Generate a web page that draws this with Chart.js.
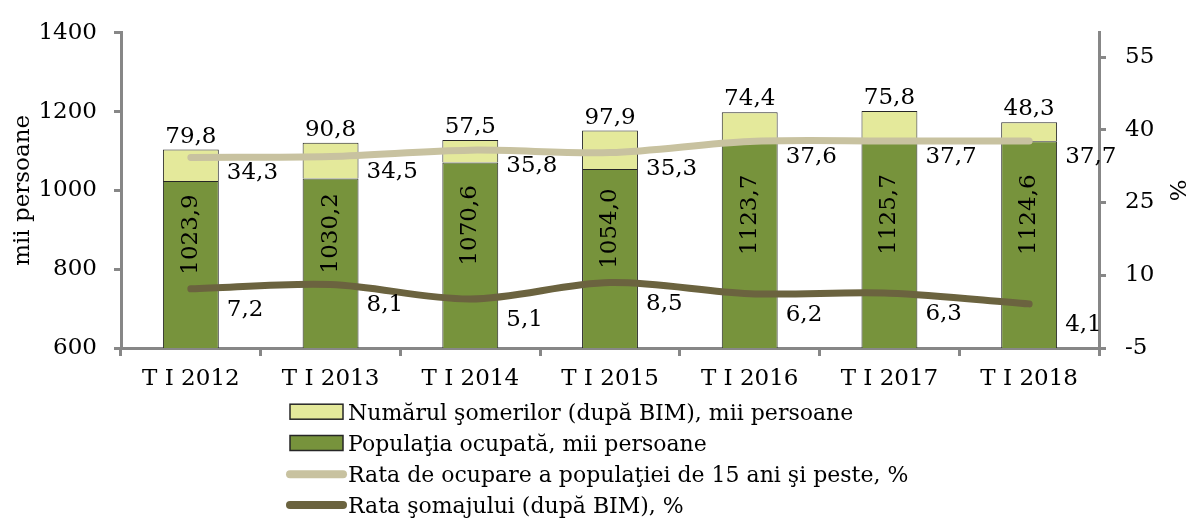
<!DOCTYPE html>
<html>
<head>
<meta charset="utf-8">
<script src="https://cdn.jsdelivr.net/npm/chart.js@4.4.1/dist/chart.umd.min.js"></script>
<style>
  html, body { margin: 0; padding: 0; background: #ffffff; }
  #wrap { width: 1189px; height: 520px; position: relative; }
</style>
</head>
<body>
<div id="wrap"><canvas id="c" width="1189" height="520"></canvas></div>
<script>
const categories = ['T I 2012', 'T I 2013', 'T I 2014', 'T I 2015', 'T I 2016', 'T I 2017', 'T I 2018'];
const employed = [1023.9, 1030.2, 1070.6, 1054.0, 1123.7, 1125.7, 1124.6];
const unemployed = [79.8, 90.8, 57.5, 97.9, 74.4, 75.8, 48.3];
const occupationRate = [34.3, 34.5, 35.8, 35.3, 37.6, 37.7, 37.7];
const unemploymentRate = [7.2, 8.1, 5.1, 8.5, 6.2, 6.3, 4.1];
const leftTicks = [600, 800, 1000, 1200, 1400];
const rightTicks = [-5, 10, 25, 40, 55];

const seriesNames = [
  'Numărul şomerilor (după BIM), mii persoane',
  'Populaţia ocupată, mii persoane',
  'Rata de ocupare a populaţiei de 15 ani şi peste, %',
  'Rata şomajului (după BIM), %'
];

const FONT = 'DejaVu Serif';
const FS = 23;
const LEGEND_FS = 22;
const C_EMP = '#77933C';
const C_UNE = '#E4E99B';
const C_OCC = '#C8C2A0';
const C_UR = '#6B633F';
const C_BORDER = '#262626';
const C_AXIS = '#878787';

const fmt = v => v.toFixed(1).replace('.', ',');

const labelsPlugin = {
  id: 'labelsPlugin',
  afterDatasetsDraw(chart) {
    const ctx = chart.ctx;
    const bottom = chart.chartArea.bottom;
    ctx.save();
    ctx.fillStyle = '#000';
    ctx.font = FS + 'px "' + FONT + '"';
    const mEmp = chart.getDatasetMeta(0);
    mEmp.data.forEach((el, i) => {
      const base = Math.min(el.base, bottom);
      ctx.save();
      ctx.translate(el.x, (el.y + base) / 2 - 30);
      ctx.rotate(-Math.PI / 2);
      ctx.textAlign = 'center';
      ctx.textBaseline = 'middle';
      ctx.fillText(fmt(employed[i]), 0, 0);
      ctx.restore();
    });
    const mUne = chart.getDatasetMeta(1);
    mUne.data.forEach((el, i) => {
      ctx.textAlign = 'center';
      ctx.textBaseline = 'alphabetic';
      ctx.fillText(fmt(unemployed[i]), el.x, el.y - 7);
    });
    [[2, occupationRate, 16], [3, unemploymentRate, 21]].forEach(([di, arr, dy]) => {
      const m = chart.getDatasetMeta(di);
      m.data.forEach((el, i) => {
        ctx.textAlign = 'left';
        ctx.textBaseline = 'middle';
        ctx.fillText(fmt(arr[i]), el.x + 36, el.y + dy);
      });
    });
    ctx.restore();
  }
};

const legendPlugin = {
  id: 'legendPlugin',
  afterDraw(chart) {
    const ctx = chart.ctx;
    ctx.save();
    const x0 = 290, x1 = 343, tx = 348;
    const baselines = [420, 451, 482, 513];
    const centers = [411.7, 443, 474.3, 505];
    [[C_UNE, 0], [C_EMP, 1]].forEach(([col, r]) => {
      ctx.fillStyle = col;
      ctx.fillRect(x0, centers[r] - 7.5, x1 - x0, 15);
      ctx.strokeStyle = C_BORDER;
      ctx.lineWidth = 1.5;
      ctx.strokeRect(x0, centers[r] - 7.5, x1 - x0, 15);
    });
    [[C_OCC, 2], [C_UR, 3]].forEach(([col, r]) => {
      ctx.strokeStyle = col;
      ctx.lineWidth = 8;
      ctx.lineCap = 'round';
      ctx.beginPath();
      ctx.moveTo(x0, centers[r]);
      ctx.lineTo(x1, centers[r]);
      ctx.stroke();
    });
    ctx.fillStyle = '#000';
    ctx.font = LEGEND_FS + 'px "' + FONT + '"';
    ctx.textAlign = 'left';
    ctx.textBaseline = 'alphabetic';
    seriesNames.forEach((n, i) => ctx.fillText(n, tx, baselines[i]));
    ctx.restore();
  }
};

const tickFont = { family: FONT, size: FS };

new Chart(document.getElementById('c'), {
  type: 'bar',
  data: {
    labels: categories,
    datasets: [
      {
        label: seriesNames[1], data: employed, backgroundColor: C_EMP,
        borderColor: C_BORDER, borderWidth: 1, yAxisID: 'y', order: 1,
        categoryPercentage: 1, barPercentage: 0.4, stack: 's'
      },
      {
        label: seriesNames[0], data: unemployed, backgroundColor: C_UNE,
        borderColor: C_BORDER, borderWidth: 1, yAxisID: 'y', order: 1,
        categoryPercentage: 1, barPercentage: 0.4, stack: 's'
      },
      {
        type: 'line', label: seriesNames[2], data: occupationRate, yAxisID: 'y1',
        borderColor: C_OCC, borderWidth: 7, pointRadius: 0, tension: 0.33,
        borderCapStyle: 'round', borderJoinStyle: 'round', fill: false, order: 0
      },
      {
        type: 'line', label: seriesNames[3], data: unemploymentRate, yAxisID: 'y1',
        borderColor: C_UR, borderWidth: 7, pointRadius: 0, tension: 0.33,
        borderCapStyle: 'round', borderJoinStyle: 'round', fill: false, order: 0
      }
    ]
  },
  options: {
    responsive: false,
    animation: false,
    devicePixelRatio: 1,
    layout: { padding: { top: 27, left: 0, right: 0, bottom: 0 } },
    plugins: { legend: { display: false }, tooltip: { enabled: false } },
    scales: {
      x: {
        stacked: true,
        afterFit(s) { s.height = 172; },
        grid: { offset: true, drawOnChartArea: false, drawTicks: true, tickLength: 8, color: C_AXIS, lineWidth: 3 },
        border: { color: C_AXIS, width: 3 },
        ticks: { font: tickFont, color: '#000', padding: 9, maxRotation: 0 }
      },
      y: {
        stacked: true,
        position: 'left',
        min: 600, max: 1400,
        afterFit(s) { s.width = 121; },
        afterBuildTicks(s) { s.ticks = leftTicks.map(v => ({ value: v })); },
        grid: { drawOnChartArea: false, drawTicks: true, tickLength: 7, color: C_AXIS, lineWidth: 3 },
        border: { color: C_AXIS, width: 3 },
        ticks: { font: tickFont, color: '#000', padding: 17, callback: v => String(v) },
        title: { display: true, text: 'mii persoane', font: { family: FONT, size: FS, lineHeight: 1.0 }, color: '#000', padding: { top: 12, bottom: 0 } }
      },
      y1: {
        position: 'right',
        min: -5, max: 60,
        afterFit(s) { s.width = 90; },
        afterBuildTicks(s) { s.ticks = rightTicks.map(v => ({ value: v })); },
        grid: { drawOnChartArea: false, drawTicks: true, tickLength: 7, color: C_AXIS, lineWidth: 3 },
        border: { color: C_AXIS, width: 3 },
        ticks: { font: tickFont, color: '#000', padding: 19, callback: v => String(v) },
        title: { display: true, text: '%', font: { family: FONT, size: FS, lineHeight: 1.0 }, color: '#000', padding: { top: 2, bottom: 0 } }
      }
    }
  },
  plugins: [labelsPlugin, legendPlugin]
});
</script>
</body>
</html>
